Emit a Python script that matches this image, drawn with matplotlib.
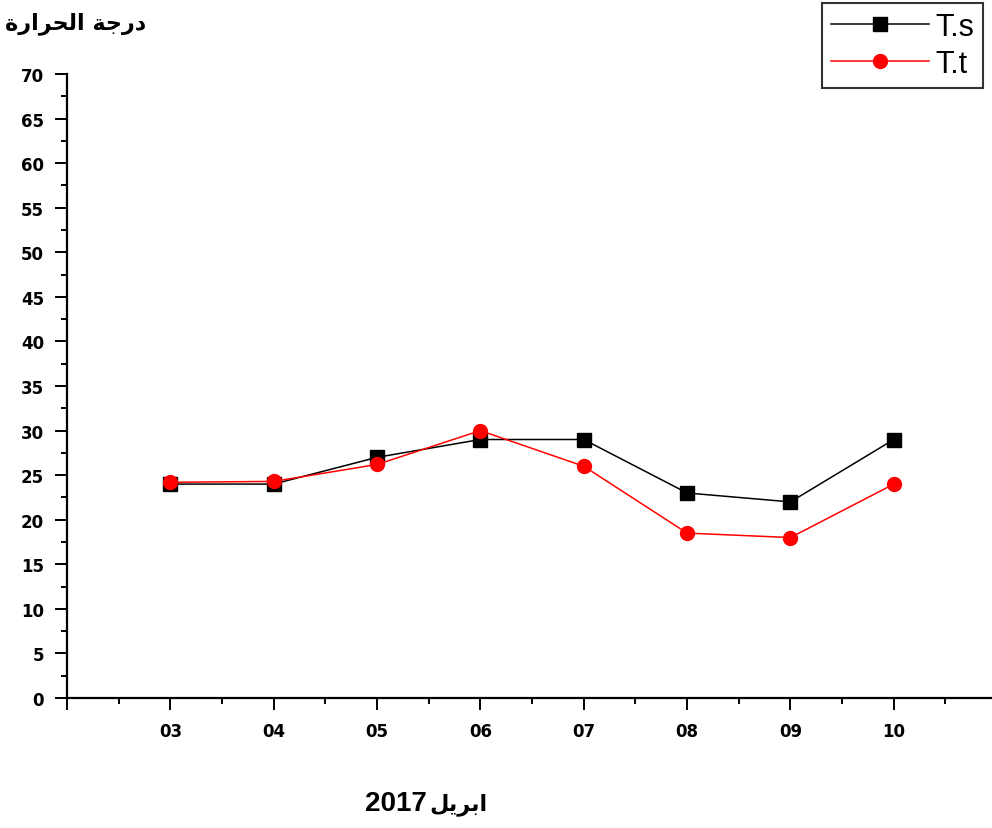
import numpy as np
from matplotlib import pyplot as plt
from matplotlib.ticker import MultipleLocator

days = ['03', '04', '05', '06', '07', '08', '09', '10']
t_s = [24, 24, 27, 29, 29, 23, 22, 29]
t_t = [24.2, 24.3, 26.2, 30, 26, 18.5, 18, 24]

# arabic labels, already shaped and in visual order (matplotlib has no bidi)
y_title = '\uFE93\uFEAD\uFE8D\uFEAE\uFEA4\uFEDF\uFE8D \uFE94\uFE9F\uFEAD\uFEA9'
month = '\uFEDE\uFEF3\uFEAE\uFE91\uFE8D'
year = '2017'

fig = plt.figure(figsize=(9.92, 8.29), dpi=100)
ax = fig.add_axes([0.0675, 0.1568, 0.9325, 0.7527])

x = np.arange(len(days))
ax.plot(x, t_s, color='black', lw=1.1, marker='s', ms=10, label='T.s')
ax.plot(x, t_t, color='red', lw=1.1, marker='o', ms=10, label='T.t')

ax.set_xlim(-1, 7.95)
ax.set_ylim(0, 70)

ax.xaxis.set_minor_locator(MultipleLocator(0.5))
ax.yaxis.set_major_locator(MultipleLocator(5))
ax.yaxis.set_minor_locator(MultipleLocator(2.5))

ax.set_xticks(np.arange(-1, 8))
ax.set_xticklabels([''] + days)

for side in ['top', 'right']:
    ax.spines[side].set_visible(False)
for side in ['left', 'bottom']:
    ax.spines[side].set_linewidth(1.6)

ax.tick_params(which='major', direction='out', length=8.5, width=1.4)
ax.tick_params(axis='x', which='major', pad=9)
ax.tick_params(axis='y', which='major', pad=8)
ax.tick_params(which='minor', direction='out', length=4.5, width=1.4)
for lab in ax.get_xticklabels() + ax.get_yticklabels():
    lab.set_fontweight('bold')
    lab.set_fontsize(12)

leg = ax.legend(loc='upper right', bbox_to_anchor=(983 / 992, 1 - 4 / 829),
                bbox_transform=fig.transFigure, borderaxespad=0,
                frameon=True, fancybox=False, handlelength=3.2,
                handletextpad=0.2, borderpad=0.3, labelspacing=0.22,
                prop={'family': ['Liberation Sans', 'DejaVu Sans'], 'size': 22})
leg.get_frame().set_edgecolor('black')
leg.get_frame().set_linewidth(1.5)

fig.text(0.005, 0.985, y_title, fontsize=16, fontweight='bold', ha='left', va='top',
         family=['DejaVu Sans'])
fig.text(427 / 992, 0.014, year, fontsize=20, fontweight='bold', ha='right', va='bottom',
         family=['Liberation Sans'])
fig.text(429 / 992, 0.016, month, fontsize=16, fontweight='bold', ha='left', va='bottom',
         family=['DejaVu Sans'])

fig.savefig('out.png', dpi=100)
